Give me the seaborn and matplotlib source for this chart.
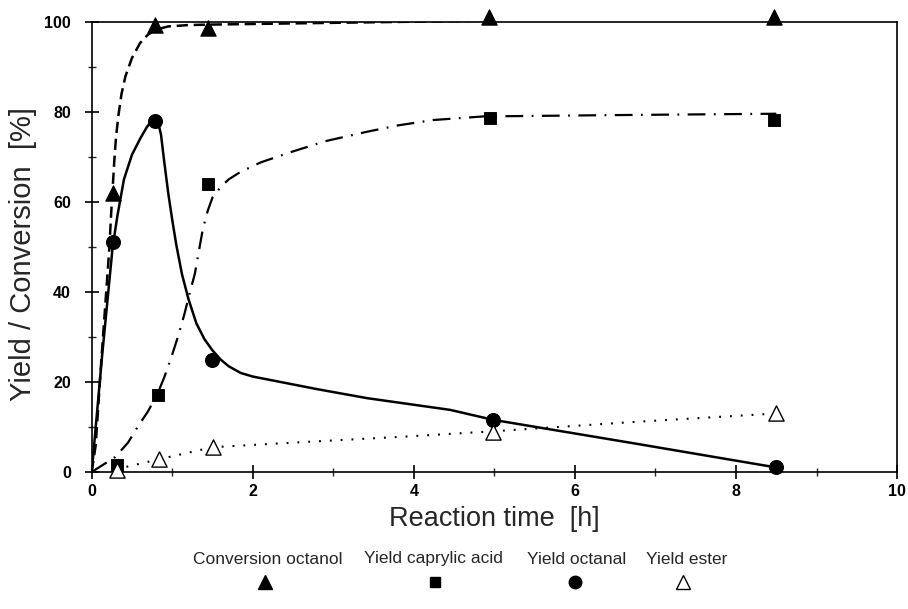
import matplotlib
matplotlib.use("Agg")
import matplotlib.pyplot as plt
from matplotlib.lines import Line2D
import seaborn as sns

# ---- measured points ----
conv_t = [0.26, 0.78, 1.44, 4.93, 8.47]
conv_v = [62, 99.3, 98.7, 101, 101]
acid_t = [0.31, 0.82, 1.45, 4.94, 8.47]
acid_v = [1.6, 17.1, 64, 78.6, 78.3]
octanal_t = [0.26, 0.78, 1.49, 4.98, 8.5]
octanal_v = [51, 78, 24.9, 11.5, 1.1]
ester_t = [0.32, 0.83, 1.5, 4.98, 8.5]
ester_v = [0.5, 2.8, 5.6, 8.9, 13.1]

# ---- hand-drawn trend curves ----
conv_curve_t = [0, 0.05, 0.12, 0.18, 0.22, 0.24, 0.26, 0.28, 0.3, 0.33, 0.37, 0.42,
                0.5, 0.6, 0.7, 0.8, 0.95, 1.2, 1.44, 3.0, 5.0, 8.5]
conv_curve_v = [0, 6, 25, 40, 50, 57, 63, 69, 74, 79, 84, 88,
                92, 95.3, 97.2, 98.3, 99.0, 99.3, 99.4, 99.8, 100.3, 100.8]
octanal_curve_t = [0, 0.13, 0.26, 0.32, 0.4, 0.5, 0.6, 0.68, 0.74, 0.78, 0.82, 0.86,
                   0.9, 0.95, 1.0, 1.05, 1.12, 1.2, 1.3, 1.4, 1.5, 1.6, 1.7, 1.85,
                   2.0, 2.2, 2.8, 3.42, 4.45, 4.98, 6.72, 8.5]
octanal_curve_v = [0, 26, 50, 57, 65, 70.5, 74, 76.5, 78, 78.4, 78, 75,
                   69, 62, 56, 50.5, 44, 38.5, 33, 29.5, 27, 25, 23.5, 22,
                   21.2, 20.5, 18.4, 16.4, 13.8, 11.6, 6.4, 1]
acid_curve_t = [0, 0.29, 0.45, 0.57, 0.7, 0.82, 0.9, 0.98, 1.07, 1.15, 1.22, 1.28,
                1.33, 1.38, 1.44, 1.5, 1.6, 1.7, 1.84, 2.1, 2.46, 2.9, 3.42, 3.8,
                4.24, 4.86, 6.5, 8.5]
acid_curve_v = [0, 3.3, 6.5, 10, 13.5, 17.5, 21, 25, 30, 35, 40, 44,
                49, 54, 58, 61, 63.3, 65, 66.6, 68.8, 71, 73.5, 75.6, 77,
                78.2, 79, 79.3, 79.6]
ester_curve_t = [0.3, 0.83, 1.5, 2.58, 3.83, 4.95, 6.72, 8.5]
ester_curve_v = [0.6, 2.8, 5.5, 6.6, 7.8, 9.0, 11.1, 13.0]

x_ticks = [0, 2, 4, 6, 8, 10]
y_ticks = [0, 20, 40, 60, 80, 100]
legend_labels = ["Conversion octanol", "Yield caprylic acid", "Yield octanal", "Yield ester"]

sns.set_style("ticks")
plt.rcParams['font.family'] = ['Liberation Sans', 'DejaVu Sans']

fig = plt.figure(figsize=(9.08, 6.09), dpi=100)
ax = fig.add_axes([0.101, 0.225, 0.887, 0.739])

# curves
sns.lineplot(x=conv_curve_t, y=conv_curve_v, ax=ax, color='black', lw=1.8,
             linestyle=(0, (4.5, 2.3)), sort=False, estimator=None)
sns.lineplot(x=octanal_curve_t, y=octanal_curve_v, ax=ax, color='black', lw=1.8,
             linestyle='-', sort=False, estimator=None)
sns.lineplot(x=acid_curve_t, y=acid_curve_v, ax=ax, color='black', lw=1.6,
             linestyle=(0, (8, 3.8, 0.8, 3.8)), sort=False, estimator=None)
sns.lineplot(x=ester_curve_t, y=ester_curve_v, ax=ax, color='black', lw=1.5,
             linestyle=(0, (0.9, 4.3)), sort=False, estimator=None)

# markers
sns.scatterplot(x=conv_t, y=conv_v, ax=ax, marker='^', s=120, color='black',
                edgecolor='black', clip_on=False, zorder=5)
sns.scatterplot(x=acid_t, y=acid_v, ax=ax, marker='s', s=65, color='black',
                edgecolor='black', clip_on=False, zorder=5)
sns.scatterplot(x=octanal_t, y=octanal_v, ax=ax, marker='o', s=100, color='black',
                edgecolor='black', clip_on=False, zorder=5)
sns.scatterplot(x=ester_t, y=ester_v, ax=ax, marker='^', s=120, facecolor='white',
                edgecolor='black', linewidth=1.0, clip_on=False, zorder=5)

ax.set_xlim(0, 10)
ax.set_ylim(0, 100)
ax.set_xticks(x_ticks)
ax.set_yticks(y_ticks)
ax.set_xticks([1, 3, 5, 7, 9], minor=True)
ax.set_yticks([10, 30, 50, 70, 90], minor=True)
ax.tick_params(which='major', direction='inout', length=10, width=1.2, labelsize=11.5,
               colors='black')
ax.tick_params(axis='y', which='major', pad=10)
ax.tick_params(axis='x', which='major', pad=4)
ax.tick_params(which='minor', direction='inout', length=6, width=1.0)
for lab in ax.get_xticklabels() + ax.get_yticklabels():
    lab.set_fontweight('bold')
for sp in ax.spines.values():
    sp.set_visible(True)
    sp.set_linewidth(1.2)
    sp.set_color('black')

ax.set_xlabel("Reaction time  [h]", fontsize=19.5, labelpad=5)
ax.set_ylabel("Yield / Conversion  [%]", fontsize=21)
ax.yaxis.set_label_coords(-0.068, 0.484)

# legend: label text with marker underneath
leg_text_x = [268, 433, 577, 687]
leg_mark_x = [265, 435, 575, 683]
leg_markers = [('^', 'black', 9.5), ('s', 'black', 7.5), ('o', 'black', 9), ('^', 'white', 9.5)]
W, H = 908, 609
for lab, tx, mx, (m, fc, ms) in zip(legend_labels, leg_text_x, leg_mark_x, leg_markers):
    fig.text(tx / W, 1 - 559 / H, lab, ha='center', va='center', fontsize=12.5)
    fig.lines.append(Line2D([mx / W], [1 - 582 / H], marker=m, markersize=ms,
                            markerfacecolor=fc, markeredgecolor='black',
                            markeredgewidth=1.0, linestyle='none',
                            transform=fig.transFigure))

fig.savefig("out.png", dpi=100)
